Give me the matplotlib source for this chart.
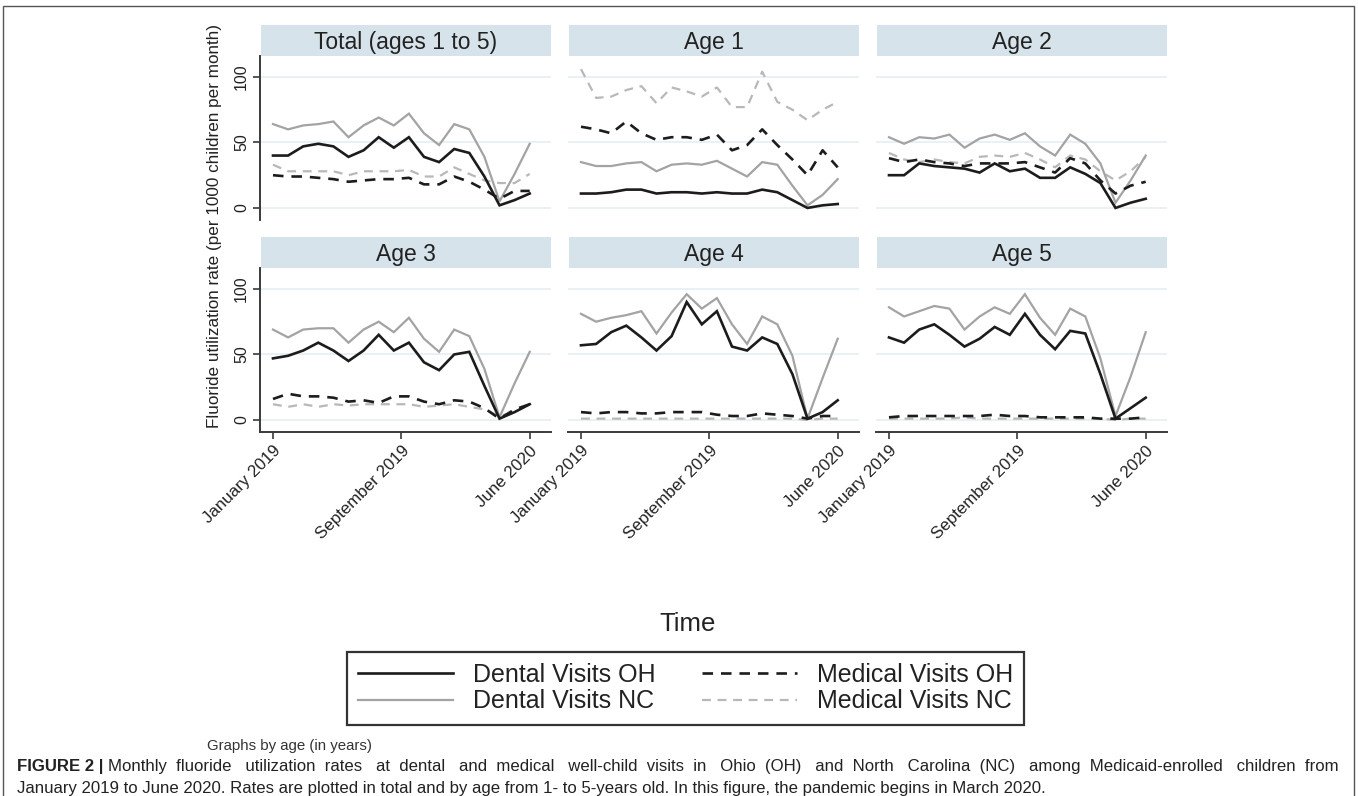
import matplotlib
matplotlib.use("Agg")
import matplotlib.pyplot as plt
from matplotlib.lines import Line2D
from matplotlib.patches import Rectangle

plt.rcParams['font.family'] = ['Liberation Sans', 'DejaVu Sans']

# ---------------- data ----------------
months = ["January 2019", "February 2019", "March 2019", "April 2019", "May 2019", "June 2019",
          "July 2019", "August 2019", "September 2019", "October 2019", "November 2019",
          "December 2019", "January 2020", "February 2020", "March 2020", "April 2020",
          "May 2020", "June 2020"]
tick_labels = ["January 2019", "September 2019", "June 2020"]
panels = ["Total (ages 1 to 5)", "Age 1", "Age 2", "Age 3", "Age 4", "Age 5"]
series_names = ["Dental Visits OH", "Dental Visits NC", "Medical Visits OH", "Medical Visits NC"]

dental_oh = {
    "Total (ages 1 to 5)": [40, 40, 47, 49, 47, 39, 44, 54, 46, 54, 39, 35, 45, 42, 24, 2, 6, 11],
    "Age 1": [11, 11, 12, 14, 14, 11, 12, 12, 11, 12, 11, 11, 14, 12, 6, 0, 2, 3],
    "Age 2": [25, 25, 34, 32, 31, 30, 27, 34, 28, 30, 23, 23, 31, 26, 19, 0, 4, 7],
    "Age 3": [47, 49, 53, 59, 53, 45, 53, 65, 53, 59, 44, 38, 50, 52, 26, 1, 6, 12],
    "Age 4": [57, 58, 67, 72, 63, 53, 64, 90, 73, 83, 56, 53, 63, 58, 35, 1, 6, 15],
    "Age 5": [63, 59, 69, 73, 65, 56, 62, 71, 65, 81, 65, 54, 68, 66, 35, 1, 9, 17],
}
dental_nc = {
    "Total (ages 1 to 5)": [64, 60, 63, 64, 66, 54, 63, 69, 63, 72, 57, 48, 64, 60, 39, 5, 26, 49],
    "Age 1": [35, 32, 32, 34, 35, 28, 33, 34, 33, 36, 30, 24, 35, 33, 17, 2, 10, 22],
    "Age 2": [54, 49, 54, 53, 56, 46, 53, 56, 52, 57, 47, 40, 56, 49, 34, 4, 21, 40],
    "Age 3": [69, 63, 69, 70, 70, 59, 69, 75, 67, 78, 62, 52, 69, 64, 39, 2, 28, 52],
    "Age 4": [81, 75, 78, 80, 83, 66, 82, 96, 85, 93, 73, 58, 79, 73, 49, 1, 32, 62],
    "Age 5": [86, 79, 83, 87, 85, 69, 79, 86, 81, 96, 78, 65, 85, 79, 47, 3, 33, 67],
}
medical_oh = {
    "Total (ages 1 to 5)": [25, 24, 24, 23, 22, 20, 21, 22, 22, 23, 18, 18, 24, 20, 14, 7, 13, 13],
    "Age 1": [62, 60, 57, 66, 57, 52, 54, 54, 52, 56, 44, 48, 60, 48, 37, 25, 44, 31],
    "Age 2": [38, 35, 37, 35, 34, 32, 34, 34, 34, 35, 31, 27, 38, 34, 21, 11, 17, 20],
    "Age 3": [16, 20, 18, 18, 17, 14, 15, 13, 18, 18, 14, 12, 15, 14, 9, 1, 8, 12],
    "Age 4": [6, 5, 6, 6, 5, 5, 6, 6, 6, 4, 3, 3, 5, 4, 3, 1, 3, 3],
    "Age 5": [2, 3, 3, 3, 3, 3, 3, 4, 3, 3, 2, 2, 2, 2, 1, 1, 1, 2],
}
medical_nc = {
    "Total (ages 1 to 5)": [33, 28, 28, 28, 28, 25, 28, 28, 28, 29, 24, 24, 31, 26, 21, 19, 19, 26],
    "Age 1": [106, 84, 85, 90, 93, 80, 92, 89, 85, 92, 77, 77, 104, 81, 75, 67, 75, 81],
    "Age 2": [42, 37, 35, 37, 35, 34, 39, 40, 39, 42, 37, 31, 40, 37, 28, 21, 28, 39],
    "Age 3": [12, 10, 12, 10, 12, 11, 12, 12, 12, 12, 10, 11, 12, 10, 8, 3, 6, 12],
    "Age 4": [1, 1, 1, 1, 1, 1, 1, 1, 1, 1, 1, 1, 1, 1, 1, 0, 1, 1],
    "Age 5": [1, 1, 1, 1, 1, 2, 1, 1, 1, 1, 1, 1, 1, 1, 1, 0, 1, 1],
}

caption_bold = "FIGURE 2 |"
caption_line1 = ("Monthly fluoride utilization rates at dental and medical well-child visits in Ohio (OH) "
                 "and North Carolina (NC) among Medicaid-enrolled children from")
caption_line2 = ("January 2019 to June 2020. Rates are plotted in total and by age from 1- to 5-years old. "
                 "In this figure, the pandemic begins in March 2020.")

# ---------------- figure ----------------
W, H = 1358, 796
fig = plt.figure(figsize=(W / 100, H / 100), dpi=100)

def fx(px):
    return px / W

def fy(py):
    return 1 - py / H

col_left = [260, 568, 876]
col_w = 291
rows = [(56, 220), (268, 432)]  # (top, bottom) in px
strip_h = 31

x = list(range(len(months)))
tick_pos = [0, 8.5, 17]

styles = {
    "Dental Visits OH": dict(color="#1c1c1c", lw=1.9, ls="-"),
    "Dental Visits NC": dict(color="#a3a3a3", lw=1.6, ls="-"),
    "Medical Visits OH": dict(color="#1c1c1c", lw=1.9, dashes=(4, 3)),
    "Medical Visits NC": dict(color="#b8b8b8", lw=1.6, dashes=(4, 3)),
}
data_map = {
    "Dental Visits OH": dental_oh,
    "Dental Visits NC": dental_nc,
    "Medical Visits OH": medical_oh,
    "Medical Visits NC": medical_nc,
}
draw_order = ["Medical Visits NC", "Dental Visits NC", "Medical Visits OH", "Dental Visits OH"]

for i, name in enumerate(panels):
    r, c = divmod(i, 3)
    top, bot = rows[r]
    ax = fig.add_axes([fx(col_left[c]), fy(bot), fx(col_w), (bot - top) / H])
    for s in draw_order:
        st = styles[s]
        kw = dict(color=st["color"], lw=st["lw"], solid_joinstyle="miter")
        if "dashes" in st:
            ax.plot(x, data_map[s][name], dashes=st["dashes"], **kw)
        else:
            ax.plot(x, data_map[s][name], ls=st["ls"], **kw)
    ax.set_xlim(-0.86, 18.41)
    ax.set_ylim(-9.2, 116)
    ax.set_yticks([0, 50, 100])
    ax.yaxis.grid(True, color="#e6eff2", lw=1.2)
    ax.set_axisbelow(True)
    for sp in ["top", "right"]:
        ax.spines[sp].set_visible(False)
    if c == 0:
        ax.spines["left"].set_color("#3a3a3a")
        ax.spines["left"].set_linewidth(1.4)
        ax.set_yticklabels(["0", "50", "100"], rotation=90, va="center", fontsize=11.5, color="#222")
        ax.tick_params(axis="y", length=5, width=1.2, color="#3a3a3a", pad=3)
    else:
        ax.spines["left"].set_visible(False)
        ax.tick_params(axis="y", length=0, labelleft=False)
    if r == 1:
        ax.spines["bottom"].set_color("#3a3a3a")
        ax.spines["bottom"].set_linewidth(1.4)
        ax.set_xticks(tick_pos)
        ax.set_xticklabels(tick_labels, rotation=45, ha="right", rotation_mode="anchor",
                           fontsize=12.2, color="#222")
        ax.tick_params(axis="x", length=5, width=1.2, color="#3a3a3a", pad=3)
    else:
        ax.spines["bottom"].set_visible(False)
        ax.set_xticks([])
    # strip
    sax = fig.add_axes([fx(col_left[c] + 1), fy(top), fx(col_w - 1), strip_h / H])
    sax.set_facecolor("#d7e3ea")
    for sp in sax.spines.values():
        sp.set_visible(False)
    sax.set_xticks([])
    sax.set_yticks([])
    sax.text(0.5, 0.45, name, ha="center", va="center", fontsize=16.5, color="#222",
             transform=sax.transAxes)

# axis titles
fig.text(fx(215), fy(226), "Fluoride utilization rate (per 1000 children per month)",
         rotation=90, ha="center", va="center", fontsize=12.3, color="#222")
fig.text(fx(688), fy(624), "Time", ha="center", va="center", fontsize=18.5, color="#222")

# legend
handles = []
for s in series_names:
    st = styles[s]
    if "dashes" in st:
        h = Line2D([], [], color=st["color"], lw=st["lw"], dashes=st["dashes"])
    else:
        h = Line2D([], [], color=st["color"], lw=st["lw"], ls=st["ls"])
    handles.append(h)
leg = fig.legend(handles, series_names,
                 ncol=2, loc="center", bbox_to_anchor=(fx(685.5), fy(688)), fontsize=18,
                 frameon=True, fancybox=False, edgecolor="black", handlelength=3.8,
                 handletextpad=0.8, columnspacing=1.85, labelspacing=0.1, borderpad=0.45,
                 borderaxespad=0)
leg.get_frame().set_linewidth(1.6)
for t in leg.get_texts():
    t.set_color("#222")

fig.text(fx(207), fy(746), "Graphs by age (in years)", ha="left", va="center", fontsize=10.8, color="#333")

# outer frame
fig.patches.append(Rectangle((fx(3), -0.05), fx(1351), fy(6) + 0.05, transform=fig.transFigure,
                             fill=False, edgecolor="#555555", lw=1.0))

# caption: first line justified by widening the word gaps (single text object)
cap_fs = 12.1
base1, base2 = 771.5, 792.5
renderer = fig.canvas.get_renderer()
bold = fig.text(fx(17), fy(base1), caption_bold, ha="left", va="baseline", fontsize=cap_fs,
                fontweight="bold", color="#222")
x0 = bold.get_window_extent(renderer=renderer).x1 + 5
right_edge = 1338
words = caption_line1.split(" ")
ng = len(words) - 1
line1 = fig.text(fx(x0), fy(base1), caption_line1, ha="left", va="baseline", fontsize=cap_fs,
                 color="#222")
w1 = line1.get_window_extent(renderer=renderer).width
line1.set_text("  ".join(words))
w2 = line1.get_window_extent(renderer=renderer).width
sp_w = (w2 - w1) / ng
m = int(round((right_edge - x0 - w1) / sp_w))
counts = [1 + m // ng] * ng
rem = m % ng
for j in range(rem):
    counts[int((j + 0.5) * ng / rem)] += 1
line1.set_text(words[0] + "".join(" " * counts[k] + words[k + 1] for k in range(ng)))
fig.text(fx(17), fy(base2), caption_line2, ha="left", va="baseline", fontsize=cap_fs, color="#222")

fig.savefig("out.png", dpi=100)
